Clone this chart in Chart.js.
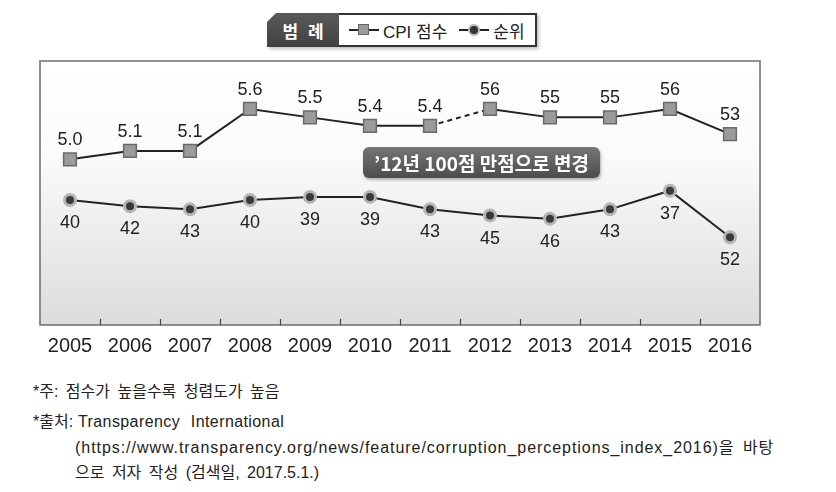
<!DOCTYPE html>
<html>
<head>
<meta charset="utf-8">
<script src="https://cdn.jsdelivr.net/npm/chart.js@4.4.1/dist/chart.umd.min.js"></script>
<style>
  html, body { margin: 0; padding: 0; background: #fff; }
  #page { position: relative; width: 836px; height: 492px; overflow: hidden;
    font-family: 'Liberation Sans', 'Noto Sans CJK KR', sans-serif; color: #222; }
  #chartWrap { position: absolute; left: 0; top: 0; width: 836px; height: 370px; }
  #legend { position: absolute; left: 267px; top: 13px; height: 34px; display: flex;
    box-shadow: 2px 2px 3px rgba(0,0,0,0.25); }
  #legend .title { width: 72px; height: 34px; background: linear-gradient(#5a5a5a, #404040);
    clip-path: polygon(9px 0, 100% 0, 100% 100%, 0 100%, 0 9px);
    color: #fff; font: bold 17px 'Noto Sans CJK KR', sans-serif; letter-spacing: 3px;
    display: flex; align-items: center; justify-content: center; padding-left: 3px; box-sizing: border-box; }
  #legend .items { height: 34px; box-sizing: border-box; border: 2px solid #333; border-left: none;
    background: #fff; display: flex; align-items: center; padding: 0 10px 0 10px;
    font: 17px 'Liberation Sans', 'Noto Sans CJK KR', sans-serif; }
  .sym { position: relative; display: inline-block; width: 30px; height: 14px; margin-right: 4px; }
  .sym::before { content: ''; position: absolute; left: 0; right: 0; top: 6px; border-top: 2px solid #222; }
  .sym .sq { position: absolute; left: 9px; top: 1px; width: 9px; height: 9px; background: #9b9b9b;
    border: 1.5px solid #666; }
  .sym .ci { position: absolute; left: 9px; top: 1px; width: 8px; height: 8px; border-radius: 50%;
    background: #333; border: 2px solid #b8b8b8; }
  #note { position: absolute; left: 363px; top: 147px; width: 237px; height: 31px; border-radius: 6px;
    background: linear-gradient(#767676, #4c4c4c); box-shadow: 1px 2px 3px rgba(0,0,0,0.3);
    color: #fff; font: bold 19px 'Noto Sans CJK KR', sans-serif; display: flex; align-items: center;
    justify-content: center; }
  .foot { position: absolute; font-size: 16px; line-height: 22px; white-space: nowrap; color: #222; word-spacing: 3px; }
</style>
</head>
<body>
<div id="page">
  <div id="chartWrap"><canvas id="cpiChart"></canvas></div>
  <div id="legend">
    <div class="title">범 례</div>
    <div class="items">
      <span class="sym"><span class="sq"></span></span><span>CPI 점수</span>
      <span style="width:12px"></span>
      <span class="sym"><span class="ci"></span></span><span>순위</span>
    </div>
  </div>
  <div id="note">’12년 100점 만점으로 변경</div>
  <div class="foot" style="left:33px; top:381px;">*주: 점수가 높을수록 청렴도가 높음</div>
  <div class="foot" style="left:33px; top:411px;">*출처:</div>
  <div class="foot" style="left:78px; top:411px; letter-spacing:0.4px; word-spacing:6px;">Transparency International</div>
  <div class="foot" style="left:75px; top:437px; letter-spacing:0.95px;">(https://www.transparency.org/news/feature/corruption_perceptions_index_2016)을 바탕</div>
  <div class="foot" style="left:75px; top:462px;">으로 저자 작성 (검색일, 2017.5.1.)</div>
</div>
<script>
const years = ['2005', '2006', '2007', '2008', '2009', '2010', '2011', '2012', '2013', '2014', '2015', '2016'];
// CPI score: 10-point scale until 2011, 100-point scale from 2012
const cpiScores = [5.0, 5.1, 5.1, 5.6, 5.5, 5.4, 5.4, 56, 55, 55, 56, 53];
const cpiLabels = ['5.0', '5.1', '5.1', '5.6', '5.5', '5.4', '5.4', '56', '55', '55', '56', '53'];
const ranks = [40, 42, 43, 40, 39, 39, 43, 45, 46, 43, 37, 52];

// plot both scales on the same 10-point axis
const cpiPlotted = cpiScores.map((v) => (v > 10 ? v / 10 : v));

const boxPlugin = {
  id: 'box',
  beforeDraw(chart) {
    const { ctx, chartArea: a } = chart;
    const g = ctx.createLinearGradient(0, a.top, 0, a.bottom);
    g.addColorStop(0, '#ffffff');
    g.addColorStop(0.35, '#fbfbfb');
    g.addColorStop(1, '#dcdcdc');
    ctx.save();
    ctx.fillStyle = g;
    ctx.fillRect(a.left, a.top, a.right - a.left, a.bottom - a.top);
    ctx.restore();
  },
  afterDraw(chart) {
    const { ctx, chartArea: a } = chart;
    const x = chart.scales.x;
    ctx.save();
    ctx.strokeStyle = '#6e6e6e';
    ctx.lineWidth = 1.5;
    ctx.strokeRect(a.left, a.top, a.right - a.left, a.bottom - a.top);
    ctx.strokeStyle = '#444';
    ctx.lineWidth = 1.2;
    for (let i = 0; i < years.length - 1; i++) {
      const px = Math.round((x.getPixelForValue(i) + x.getPixelForValue(i + 1)) / 2) + 0.5;
      ctx.beginPath();
      ctx.moveTo(px, a.bottom);
      ctx.lineTo(px, a.bottom - 6);
      ctx.stroke();
    }
    ctx.restore();
  },
};

const labelPlugin = {
  id: 'valueLabels',
  afterDatasetsDraw(chart) {
    const { ctx } = chart;
    ctx.save();
    ctx.font = '18px "Liberation Sans", sans-serif';
    ctx.fillStyle = '#222';
    ctx.textAlign = 'center';
    chart.getDatasetMeta(0).data.forEach((pt, i) => {
      ctx.textBaseline = 'bottom';
      ctx.fillText(cpiLabels[i], pt.x, pt.y - 10);
    });
    chart.getDatasetMeta(1).data.forEach((pt, i) => {
      ctx.textBaseline = 'top';
      ctx.fillText(String(ranks[i]), pt.x, pt.y + 14);
    });
    ctx.restore();
  },
};

new Chart(document.getElementById('cpiChart'), {
  type: 'line',
  data: {
    labels: years,
    datasets: [
      {
        label: 'CPI 점수',
        data: cpiPlotted,
        yAxisID: 'yCpi',
        borderColor: '#222',
        borderWidth: 2,
        pointStyle: 'rect',
        pointRadius: 9,
        pointBackgroundColor: '#9b9b9b',
        pointBorderColor: '#6a6a6a',
        pointBorderWidth: 1.5,
        tension: 0,
        segment: {
          borderDash: (c) => (c.p0DataIndex === 6 ? [5, 4] : undefined),
        },
      },
      {
        label: '순위',
        data: ranks,
        yAxisID: 'yRank',
        borderColor: '#222',
        borderWidth: 2,
        pointStyle: 'circle',
        pointRadius: 5.5,
        pointBackgroundColor: '#3a3a3a',
        pointBorderColor: '#b5b5b5',
        pointBorderWidth: 3,
        tension: 0,
      },
    ],
  },
  options: {
    responsive: true,
    maintainAspectRatio: false,
    animation: false,
    layout: { padding: { left: 40, right: 76, top: 61, bottom: 0 } },
    plugins: { legend: { display: false }, tooltip: { enabled: false } },
    scales: {
      x: {
        offset: true,
        grid: { display: false, drawTicks: false },
        border: { display: false },
        ticks: {
          color: '#222',
          padding: 9,
          font: { family: '"Liberation Sans Narrow", "Liberation Sans", sans-serif', size: 20 },
        },
        afterFit: (s) => { s.height = 45; },
      },
      yCpi: { display: false, min: 3.025, max: 6.172 },
      yRank: { display: false, reverse: true, min: -4.74, max: 80.22 },
    },
  },
  plugins: [boxPlugin, labelPlugin],
});
</script>
</body>
</html>
